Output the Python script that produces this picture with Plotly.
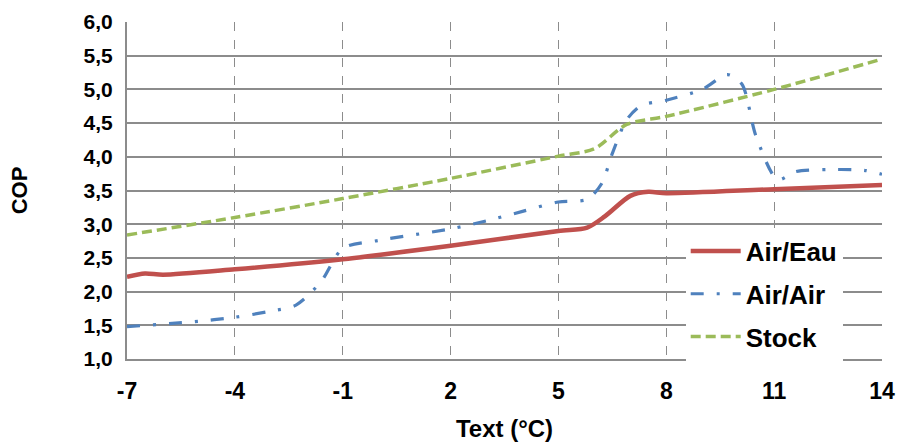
import plotly.graph_objects as go

# Data
eau_x = [-7, -6.5, -6, -4, -1, 2, 5, 5.8, 6.3, 7, 7.5, 8, 11, 14]
eau_y = [2.22, 2.27, 2.25, 2.33, 2.48, 2.68, 2.90, 2.95, 3.12, 3.42, 3.48, 3.46, 3.52, 3.58]

air_x = [-7, -5, -4, -3, -2.3, -1.6, -1, 0, 2, 3, 4, 5, 5.8, 6.2, 6.5, 6.9, 7.3, 8, 9, 9.7, 10.1, 10.5, 11.1, 11.6, 12.5, 13.5, 14]
air_y = [1.48, 1.56, 1.62, 1.71, 1.80, 2.15, 2.64, 2.76, 2.93, 3.05, 3.19, 3.33, 3.37, 3.60, 4.05, 4.55, 4.76, 4.84, 5.00, 5.22, 5.08, 4.30, 3.66, 3.78, 3.81, 3.80, 3.74]

stock_x = [-7, -4, -1, 2, 5, 6, 6.9, 8, 11, 14]
stock_y = [2.84, 3.10, 3.38, 3.68, 4.01, 4.12, 4.48, 4.60, 5.00, 5.45]

x_ticks = [-7, -4, -1, 2, 5, 8, 11, 14]
y_ticks = [1.0, 1.5, 2.0, 2.5, 3.0, 3.5, 4.0, 4.5, 5.0, 5.5, 6.0]
y_labels = [f"{v:.1f}".replace(".", ",") for v in y_ticks]

FONT = "Liberation Sans, Arial, sans-serif"

fig = go.Figure()
fig.add_trace(go.Scatter(x=eau_x, y=eau_y, mode="lines", name="Air/Eau",
                         legendgroup="a",
                         line=dict(color="#C0504D", width=4.5, shape="spline", smoothing=0.8)))
fig.add_trace(go.Scatter(x=air_x, y=air_y, mode="lines", name="Air/Air",
                         legendgroup="b",
                         line=dict(color="#4F81BD", width=3.2, shape="spline", smoothing=0.8,
                                   dash="13px,13px,3px,13px")))
fig.add_trace(go.Scatter(x=stock_x, y=stock_y, mode="lines", name="Stock",
                         legendgroup="c",
                         line=dict(color="#9BBB59", width=3.5, shape="spline", smoothing=0.8,
                                   dash="10px,5px")))

fig.update_layout(
    width=898, height=442,
    margin=dict(l=127, r=16, t=22, b=83, autoexpand=False),
    paper_bgcolor="white", plot_bgcolor="white",
    font=dict(family=FONT, color="black"),
    showlegend=True,
    legend=dict(x=0.740, y=0.39, xanchor="left", yanchor="top",
                bgcolor="white", borderwidth=0,
                font=dict(family=FONT, size=26, color="black", weight="bold"),
                traceorder="grouped", tracegroupgap=6, itemwidth=50),
    xaxis=dict(range=[-7, 14], tickmode="array", tickvals=x_ticks,
               ticktext=[f"<b>{v}</b>" for v in x_ticks], automargin=False,
               showgrid=True, gridcolor="#8c8c8c", griddash="dash", gridwidth=1,
               showline=True, linecolor="#8c8c8c", linewidth=2,
               zeroline=False, ticks="outside", ticklen=10, tickcolor="white",
               tickfont=dict(family=FONT, size=23, color="black"),
               title=dict(text="<b>Text (°C)</b>", font=dict(family=FONT, size=24), standoff=20)),
    yaxis=dict(range=[1.0, 6.0], tickmode="array", tickvals=y_ticks,
               ticktext=[f"<b>{t}</b>" for t in y_labels], automargin=False,
               showgrid=True, gridcolor="#8c8c8c", gridwidth=1.5,
               showline=True, linecolor="#8c8c8c", linewidth=2,
               zeroline=False, ticks="outside", ticklen=8, tickcolor="white",
               tickfont=dict(family=FONT, size=21, color="black"),
               title=dict(text="<b>COP</b>", font=dict(family=FONT, size=22), standoff=50)),
)

fig.write_html("out.html", config={"displayModeBar": False},
               post_script="document.body.style.margin='0';")
